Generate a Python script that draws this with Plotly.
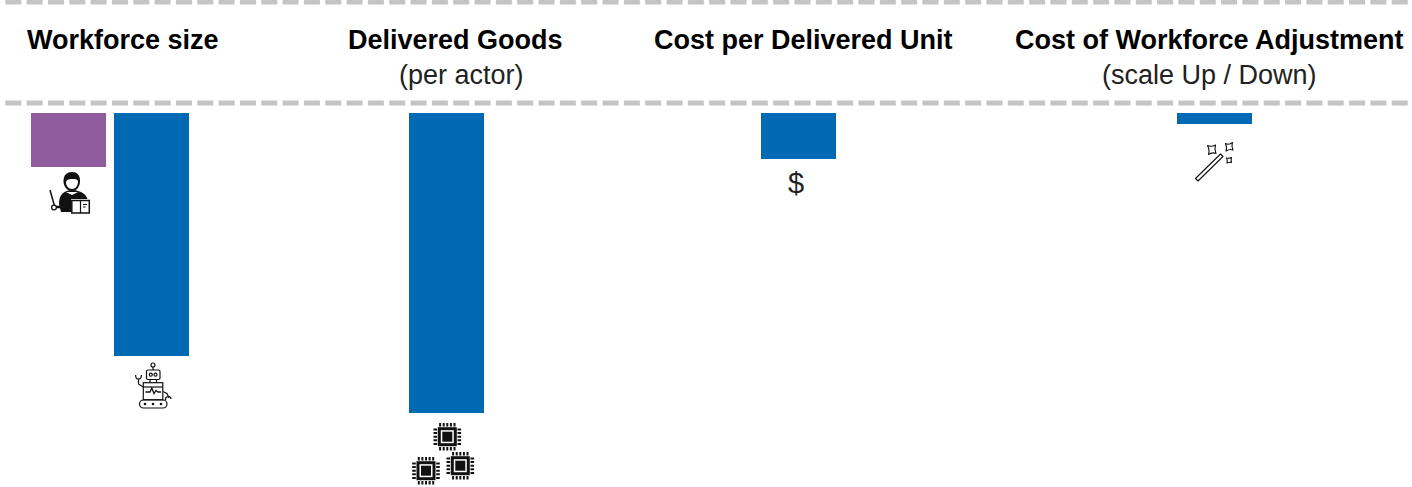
import base64
import plotly.graph_objects as go

# ---- data (bar lengths, in relative units) ----
bar_names = ["Human workforce", "Robot workforce", "Delivered goods", "Cost per delivered unit", "Cost of workforce adjustment"]
bar_values = [54, 243, 300, 46, 11]

header_titles = ["Workforce size", "Delivered Goods", "Cost per Delivered Unit", "Cost of Workforce Adjustment"]
header_subtitles = ["", "(per actor)", "", "(scale Up / Down)"]

# ---- layout and style ----
W, H = 1412, 487
BAR_CENTRES = [68.5, 151.5, 446.5, 798.5, 1214.5]
BAR_WIDTH = 75
BAR_TOP = 113
BAR_COLOURS = ["#905C9E", "#0069B4", "#0069B4", "#0069B4", "#0069B4"]
TITLE_X = [122.5, 455, 803, 1209]
SUB_X = [461, 461, 803, 1209]
FONT = "Liberation Sans, Arial, sans-serif"


def svg_image(svg_body, x, y, w, h):
    svg = (f'<svg xmlns="http://www.w3.org/2000/svg" width="{w*4}" height="{h*4}" '
           f'viewBox="{x} {y} {w} {h}">{svg_body}</svg>')
    src = "data:image/svg+xml;base64," + base64.b64encode(svg.encode()).decode()
    return dict(source=src, xref="x", yref="y", x=x, y=y, sizex=w, sizey=h,
                xanchor="left", yanchor="top", sizing="stretch", layer="above")


def chip(cx, cy):
    parts = []
    for k in range(-2, 3):
        o = k * 3.6
        parts.append(f'<path d="M{cx+o} {cy-13.8}v3.6M{cx+o} {cy+10.2}v3.6M{cx-13.8} {cy+o}h3.6M{cx+10.2} {cy+o}h3.6" '
                     'stroke="#111" stroke-width="2" fill="none"/>')
    parts.append(f'<rect x="{cx-9.5}" y="{cy-9.5}" width="19" height="19" fill="#111"/>')
    parts.append(f'<rect x="{cx-6.5}" y="{cy-6.5}" width="13" height="13" fill="#fff"/>')
    parts.append(f'<rect x="{cx-5}" y="{cy-5}" width="10" height="10" fill="#111"/>')
    return "".join(parts)


person = """
<path d="M59 204 C59 194 64 191 71 190 L74 190 C81 191 86 194 87.5 199 L71 199 L71 212 L61 212 Z" fill="#111"/>
<path d="M63.5 181 C63.5 175 67 172 72 172 C77 172 80 175 80 181 C80 187 76.5 191 72 191 C67.5 191 63.5 187 63.5 181 Z" fill="#111"/>
<path d="M66 182 C67 179 70 179 73 179 C75 179 77 179 78 181 C78 186 75.500 189 72 189 C68.500 189 66 186 66 182 Z" fill="#fff"/>
<path d="M66 192 L72 195 L78 192" fill="#fff"/>
<path d="M50 190 L54.500 206" stroke="#111" stroke-width="1.500" fill="none"/>
<circle cx="54" cy="207.500" r="2.400" fill="#fff" stroke="#111" stroke-width="1.300"/>
<path d="M56 207 L62 207" stroke="#111" stroke-width="2.500"/>
<rect x="71.800" y="200.500" width="17.500" height="12.500" fill="#fff" stroke="#111" stroke-width="1.500"/>
<path d="M80.500 200.500V213M83 204.500h4M83 207h2.500" stroke="#111" stroke-width="1.200" fill="none"/>
"""

robot = """
<g fill="none" stroke="#111" stroke-width="1.200">
<circle cx="153" cy="365" r="2"/>
<path d="M153 367V370"/>
<rect x="146.500" y="370" width="13.500" height="9.500" rx="1.500"/>
<circle cx="150.800" cy="374.700" r="1.500"/>
<circle cx="155.500" cy="374.700" r="1.500"/>
<path d="M150 379.500V382.700M156.500 379.500V382.700"/>
<rect x="143.300" y="382.700" width="19.500" height="17"/>
<path d="M143.300 387H162.800"/>
<path d="M145.500 392H150L151.800 388L154 393.500L156 390.500L158 392H161" stroke-width="1.300"/>
<path d="M143.300 387L138.500 384V379.500"/>
<path d="M135.600 375C135.600 380.500 141.400 380.500 141.400 375"/>
<path d="M162.800 391.500L167 393.500L169 398"/>
<path d="M165.500 400C165 396 171 395 171 399"/>
<rect x="139.500" y="400" width="27.500" height="8" rx="4"/>
</g>
<g fill="#111"><circle cx="145" cy="404" r="1.300"/><circle cx="153" cy="404" r="1.300"/><circle cx="161" cy="404" r="1.300"/></g>
"""

chips = chip(447.3, 436.7) + chip(426, 470.7) + chip(460.3, 465.7)

wand = """
<g fill="#fff" stroke="#111" stroke-width="1.100" stroke-linejoin="round">
<path d="M1195.500 178.500L1220.500 154L1223 156.500L1198 181Z"/>
<path d="M1207.500 145.500C1210 146.500 1213 146.500 1215.500 145C1214.500 148 1215 151 1216 153.500C1213.500 152.500 1210.500 153 1208.500 154.500C1209.500 151.500 1209 148.500 1207.500 145.500Z"/>
<path d="M1225.500 143.500C1227.500 144.500 1230 144.500 1232.500 142.500C1231.500 145 1232 148 1233 150C1230.500 149 1228.500 149.500 1226 151C1227 148.500 1226.500 146 1225.500 143.500Z"/>
<path d="M1226.500 158C1228 158.500 1229.500 158.500 1231.500 157.500C1231 159 1231 161 1231.500 162.500C1230 162 1228.500 162 1227 163C1227.500 161.500 1227.500 159.500 1226.500 158Z"/>
</g>
"""

fig = go.Figure()
fig.add_trace(go.Bar(
    x=BAR_CENTRES, y=bar_values, base=[BAR_TOP] * len(bar_values), width=BAR_WIDTH,
    marker=dict(color=BAR_COLOURS, line=dict(width=0)),
    customdata=bar_names, hovertemplate="%{customdata}: %{y}<extra></extra>",
))

dash = "16px,5.33px"
shapes = [
    dict(type="line", xref="x", yref="y", x0=5.3, x1=W, y0=yy, y1=yy,
         line=dict(color="#C4C4C4", width=5, dash=dash), layer="above")
    for yy in (2, 103)
]

annotations = []
for t, x in zip(header_titles, TITLE_X):
    annotations.append(dict(text=f"<b>{t}</b>", x=x, y=39.5, xref="x", yref="y", showarrow=False,
                            xanchor="center", yanchor="middle",
                            font=dict(family=FONT, size=27, color="#000")))
for t, x in zip(header_subtitles, SUB_X):
    if t:
        annotations.append(dict(text=t, x=x, y=74.5, xref="x", yref="y", showarrow=False,
                                xanchor="center", yanchor="middle",
                                font=dict(family=FONT, size=27, color="#222")))
annotations.append(dict(text="$", x=795.5, y=183, xref="x", yref="y", showarrow=False,
                        xanchor="center", yanchor="middle",
                        font=dict(family=FONT, size=29, color="#222")))

images = [
    svg_image(person, 46, 170, 46, 46),
    svg_image(robot, 132, 360, 42, 50),
    svg_image(chips, 410, 420, 68, 67),
    svg_image(wand, 1190, 138, 48, 48),
]

fig.update_layout(
    width=W, height=H, margin=dict(l=0, r=0, t=0, b=0),
    paper_bgcolor="#fff", plot_bgcolor="#fff", showlegend=False,
    xaxis=dict(range=[0, W], visible=False, fixedrange=True),
    yaxis=dict(range=[H, 0], visible=False, fixedrange=True),
    shapes=shapes, annotations=annotations, images=images,
)

fig.write_html(
    "out.html",
    config={"displayModeBar": False},
    post_script="document.body.style.margin='0';document.documentElement.style.overflow='hidden';",
)
